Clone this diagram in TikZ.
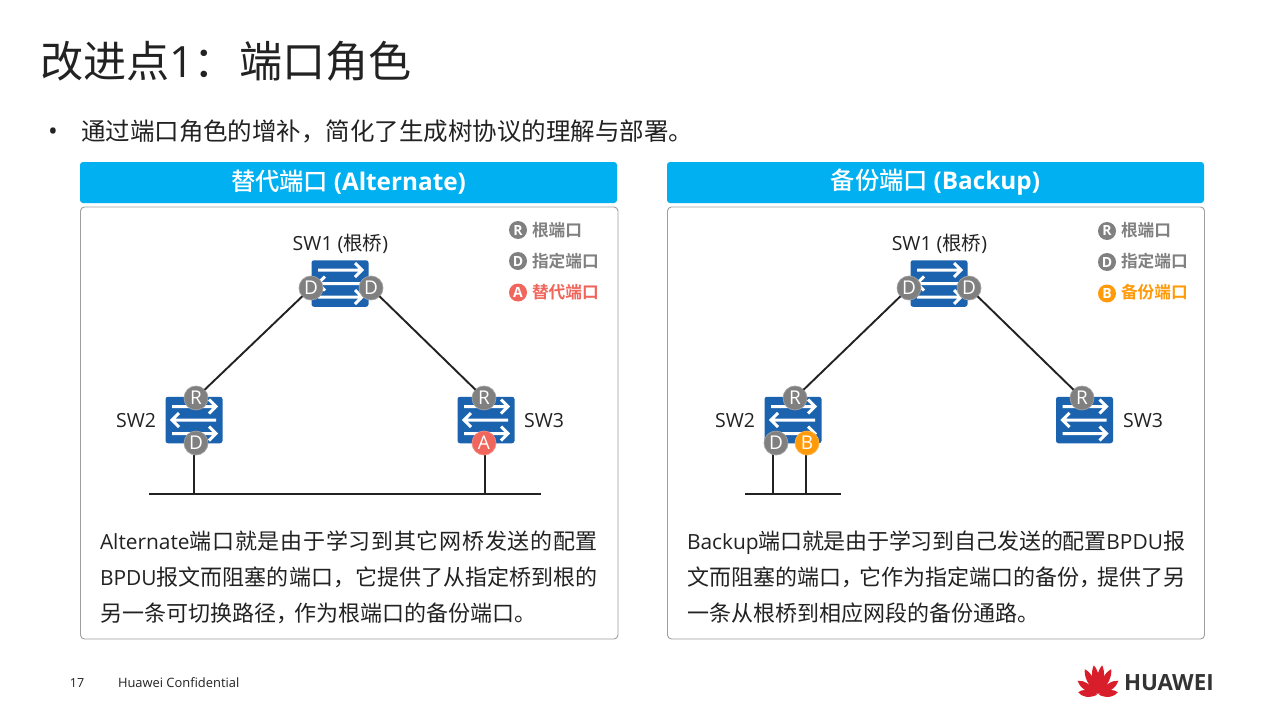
\documentclass[tikz,border=0pt]{standalone}
\usepackage{fontspec}
\setmainfont[BoldFont={Noto Sans CJK SC Medium}]{Noto Sans CJK SC}
\newfontfamily\cjkbold{Noto Sans CJK SC Bold}
\newfontfamily\lat{Open Sans}
\newfontfamily\blat[Scale=0.95]{Open Sans}
\usetikzlibrary{backgrounds}
\definecolor{hdr}{HTML}{00B0F0}
\definecolor{swblue}{HTML}{1B63AE}
\definecolor{portgray}{HTML}{808080}
\definecolor{portred}{HTML}{F0665C}
\definecolor{portorg}{HTML}{FF9A0A}
\definecolor{hwred}{HTML}{D81E2A}
\definecolor{ink}{HTML}{222222}
\newcommand{\fs}[2]{\fontsize{#1}{#2}\selectfont}
\XeTeXlinebreaklocale "zh"
\XeTeXlinebreakskip=0pt plus 3pt minus 1pt
\tikzset{
  plain/.style={inner sep=0,outer sep=0,text=ink},
  header/.style={inner sep=0,outer sep=0,fill=hdr,rounded corners=3pt,minimum width=537,minimum height=41,text=white,font=\fs{24.3}{28}\bfseries},
  panel/.style={draw=black!38,line width=0.9pt,rounded corners=4pt},
  swbox/.style={fill=swblue,rounded corners=2.5pt,minimum width=57,minimum height=46.5,inner sep=0,outer sep=0},
  port/.style={circle,fill=#1,draw=#1!75!white,line width=0.7pt,minimum size=24,inner sep=0,outer sep=0,text=white,font=\fs{19}{20}\lat},
  keydot/.style={circle,fill=#1,minimum size=18,inner sep=0,outer sep=0,text=white,font=\fs{14}{15}\lat\bfseries},
  keytxt/.style={inner sep=0,outer sep=0,anchor=west,text=#1,font=\fs{16.7}{18}\cjkbold},
  wire/.style={draw=ink,line width=1.9pt},
  bus/.style={draw=ink,line width=2.2pt},
  body/.style={plain,anchor=west,align=justify,text width=498,font=\fs{22}{36}},
  swlab/.style={plain,font=\fs{19.5}{22}},
}
\newcommand{\swarrows}[2]{%
  \begin{scope}[shift={(#1,#2)},white,line width=3pt,line join=miter]
    \draw (-22,-13.5)--(21,-13.5) (15,-20.5)--(22,-13.5)--(15,-6.5);
    \draw (-21,0)--(22,0) (-15,-7)--(-22,0)--(-15,7);
    \draw (-22,13.5)--(21,13.5) (15,6.5)--(22,13.5)--(15,20.5);
  \end{scope}}
\begin{document}
\begin{tikzpicture}[x=1pt,y=-1pt]
\useasboundingbox (0,0) rectangle (1278,715);
\begin{scope}[on background layer]
\fill[white] (0,0) rectangle (1278,715);
\end{scope}
% title
\node[plain,anchor=west,font=\fs{43.1}{46}] (title) at (40,61) {改进点{\lat 1}：\hspace{2pt}端口角色};
\node[plain,anchor=center,font=\fs{26}{28}\lat] (dot) at (53,134) {•};
\node[plain,anchor=west,font=\fs{24.5}{28}] (lead) at (81,131) {通过端口角色的增补，简化了生成树协议的理解与部署。};
% panels
\node[header] (h1) at (348.5,182.5) {替代端口 {\lat (Alternate)}};
\node[header] (h2) at (935.5,182.5) {备份端口 {\lat (Backup)}};
\draw[panel] (80.5,207) rectangle (618,639);
\draw[panel] (667.5,207) rectangle (1204.5,639);
% left switches
\node[swbox] (a1) at (340,283.5) {}; \swarrows{340}{283.5}
\node[swbox] (a2) at (194,420) {}; \swarrows{194}{420}
\node[swbox] (a3) at (486,420) {}; \swarrows{486}{420}
\node[port=portgray] (a1l) at (311,288) {D};
\node[port=portgray] (a1r) at (371,288) {D};
\node[port=portgray] (a2r) at (196,398) {R};
\node[port=portgray] (a2d) at (196,443) {D};
\node[port=portgray] (a3r) at (484,398) {R};
\node[port=portred]  (a3a) at (484,443) {A};
\coordinate (abusl) at (149,494);
\coordinate (abusr) at (541,494);
\coordinate (at2) at (194,494);
\coordinate (at3) at (485,494);
\draw[wire] (a1l) -- (a2r);
\draw[wire] (a1r) -- (a3r);
\begin{scope}[on background layer]
\draw[wire] (at2 |- a2d) -- (at2);
\draw[wire] (at3 |- a3a) -- (at3);
\end{scope}
\draw[bus] (abusl) -- (abusr);
\node[swlab] (al1) at (340.5,244) {{\lat SW1 (}根桥{\lat )}};
\node[swlab] (al2) at (136,420.5) {\lat SW2};
\node[swlab] (al3) at (544,420.5) {\lat SW3};
\node[keydot=portgray] (ak1) at (518,230) {R};
\node[keydot=portgray] (ak2) at (518,261) {D};
\node[keydot=portred]  (ak3) at (518,292.5) {A};
\node[keytxt=portgray] (at1) at (532,230) {根端口};
\node[keytxt=portgray] (atb) at (532,261) {指定端口};
\node[keytxt=portred]  (atc) at (532,292.5) {替代端口};
\node[body] (abody) at (100,577) {{\blat Alternate}端口就是由于学习到其它网桥发送的配置\linebreak[4]{\blat BPDU}报文而阻塞的端口，它提供了从指定桥到根的\linebreak[4]另一条可切换路径，\kern-4pt 作为根端口的备份端口。};
% right switches
\node[swbox] (b1) at (939,283.5) {}; \swarrows{939}{283.5}
\node[swbox] (b2) at (793,420) {}; \swarrows{793}{420}
\node[swbox] (b3) at (1084.5,420) {}; \swarrows{1084.5}{420}
\node[port=portgray] (b1l) at (909,288) {D};
\node[port=portgray] (b1r) at (969,288) {D};
\node[port=portgray] (b2r) at (795,398) {R};
\node[port=portgray] (b2d) at (776,443) {D};
\node[port=portorg]  (b2b) at (807,443) {B};
\node[port=portgray] (b3r) at (1082,398) {R};
\coordinate (bbusl) at (745,494);
\coordinate (bbusr) at (841,494);
\coordinate (bt1) at (773,494);
\coordinate (bt2) at (806,494);
\draw[wire] (b1l) -- (b2r);
\draw[wire] (b1r) -- (b3r);
\begin{scope}[on background layer]
\draw[wire] (bt1 |- b2d) -- (bt1);
\draw[wire] (bt2 |- b2b) -- (bt2);
\end{scope}
\draw[bus] (bbusl) -- (bbusr);
\node[swlab] (bl1) at (939.5,244) {{\lat SW1 (}根桥{\lat )}};
\node[swlab] (bl2) at (735,420.5) {\lat SW2};
\node[swlab] (bl3) at (1143,420.5) {\lat SW3};
\node[keydot=portgray] (bk1) at (1107,231) {R};
\node[keydot=portgray] (bk2) at (1107,262) {D};
\node[keydot=portorg]  (bk3) at (1107,293.5) {B};
\node[keytxt=portgray] (bt1x) at (1121,230) {根端口};
\node[keytxt=portgray] (bt2x) at (1121,261) {指定端口};
\node[keytxt=portorg]  (bt3x) at (1121,292.5) {备份端口};
\node[body] (bbody) at (687,577) {{\blat Backup}端口就是由于学习到自己发送的配置{\blat BPDU}报\linebreak[4]文而阻塞的端口，\kern-4pt 它作为指定端口的备份，\kern-4pt 提供了另\linebreak[4]一条从根桥到相应网段的备份通路。};
% footer
\node[plain,font=\fs{12.5}{14}\lat] (pg) at (77,683) {17};
\node[plain,anchor=west,font=\fs{12.9}{14}\lat] (conf) at (118,683) {Huawei Confidential};
% logo
\begin{scope}[shift={(1098,695)}]
\foreach \a/\l in {-82/20,-55/25,-27/29,-8/30,8/30,27/29,55/25,82/20}{
  \fill[hwred,rotate=\a] (0,-1) .. controls (-5,-\l*0.45) and (-4,-\l*0.8) .. (0,-\l) .. controls (4,-\l*0.8) and (5,-\l*0.45) .. (0,-1) -- cycle;
}
\end{scope}
\node[plain,anchor=west,font=\fs{22.3}{24}\lat\bfseries,text=black!80] (brand) at (1124,683) {HUAWEI};
\end{tikzpicture}
\end{document}
